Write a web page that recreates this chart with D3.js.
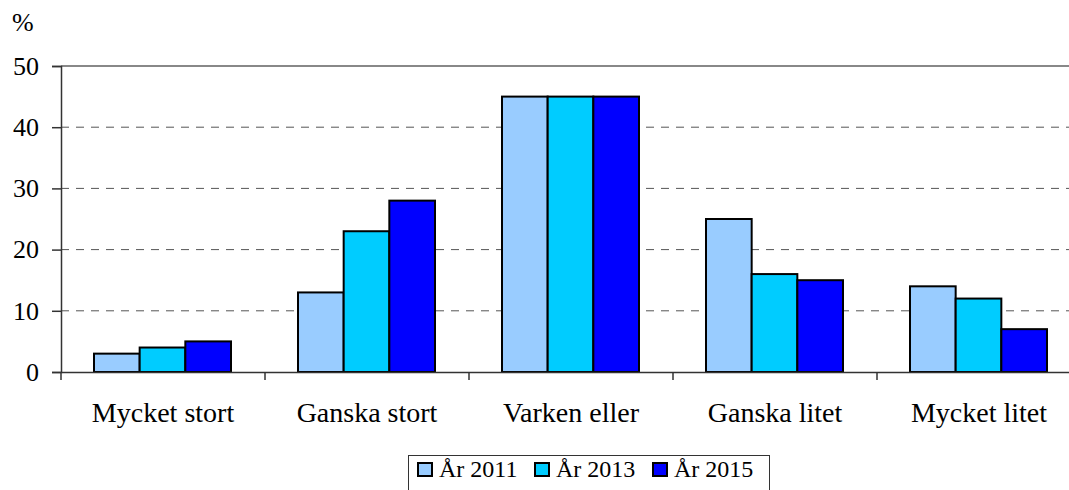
<!DOCTYPE html>
<html>
<head>
<meta charset="utf-8">
<script src="https://cdn.jsdelivr.net/npm/d3@7"></script>
<style>
  body { margin: 0; background: #fff; }
</style>
</head>
<body>
<div id="chart"></div>
<script>
// data
const categories = ['Mycket stort', 'Ganska stort', 'Varken eller', 'Ganska litet', 'Mycket litet'];
const seriesNames = ['År 2011', 'År 2013', 'År 2015'];
const values2011 = [3, 13, 45, 25, 14];
const values2013 = [4, 23, 45, 16, 12];
const values2015 = [5, 28, 45, 15, 7];
const yTicks = [0, 10, 20, 30, 40, 50];

const colors = ['#99ccff', '#00ccff', '#0000ff'];
const series = [values2011, values2013, values2015];
const FONT = 'Liberation Serif';

const width = 1069;
const height = 490;
const margin = { top: 66, left: 61, bottom: 118 };
const plotW = 1020;
const plotH = height - margin.top - margin.bottom;

const svg = d3.select('#chart')
  .append('svg')
  .attr('width', width)
  .attr('height', height)
  .attr('font-family', FONT);

const g = svg.append('g')
  .attr('transform', `translate(${margin.left},${margin.top})`);

const x0 = d3.scaleBand()
  .domain(categories)
  .range([0, plotW])
  .paddingInner(0)
  .paddingOuter(0);

const x1 = d3.scaleBand()
  .domain(seriesNames)
  .range([33, x0.bandwidth() - 34]);

const y = d3.scaleLinear()
  .domain([0, 50])
  .range([plotH, 0]);

// gridlines
g.selectAll('.grid')
  .data(yTicks.filter(d => d > 0))
  .enter()
  .append('line')
  .attr('x1', 0)
  .attr('x2', plotW)
  .attr('y1', d => y(d))
  .attr('y2', d => y(d))
  .attr('stroke', d => d === 50 ? '#888' : '#555')
  .attr('stroke-width', d => d === 50 ? 2 : 1)
  .attr('stroke-dasharray', d => d === 50 ? null : '8,7');

// bars
const groups = g.selectAll('.group')
  .data(categories)
  .enter()
  .append('g')
  .attr('transform', d => `translate(${x0(d)},0)`);

groups.selectAll('rect')
  .data((d, i) => series.map((s, j) => ({ name: seriesNames[j], value: s[i], color: colors[j] })))
  .enter()
  .append('rect')
  .attr('x', d => x1(d.name))
  .attr('y', d => y(d.value))
  .attr('width', x1.bandwidth())
  .attr('height', d => plotH - y(d.value))
  .attr('fill', d => d.color)
  .attr('stroke', '#000')
  .attr('stroke-width', 2);

// y axis
const yAxis = d3.axisLeft(y)
  .tickValues(yTicks)
  .tickSize(9)
  .tickPadding(13);

const yg = g.append('g').call(yAxis).attr('font-family', FONT);
yg.select('.domain').attr('stroke', '#333').attr('stroke-width', 1.5);
yg.selectAll('.tick line').attr('stroke', '#333').attr('stroke-width', 1.5);
yg.selectAll('text')
  .attr('font-family', FONT)
  .attr('font-size', 26)
  .attr('fill', '#000');

// x axis
const xAxis = d3.axisBottom(x0)
  .tickSize(0);

const xg = g.append('g')
  .attr('transform', `translate(0,${plotH})`)
  .call(xAxis)
  .attr('font-family', FONT);
xg.select('.domain').attr('stroke', '#333').attr('stroke-width', 1.5);
xg.selectAll('text')
  .attr('font-family', FONT)
  .attr('font-size', 28)
  .attr('y', 50)
  .attr('dy', 0)
  .attr('fill', '#000');

// category separator ticks
xg.selectAll('.sep')
  .data(categories)
  .enter()
  .append('line')
  .attr('x1', d => x0(d))
  .attr('x2', d => x0(d))
  .attr('y1', 0)
  .attr('y2', 8)
  .attr('stroke', '#333')
  .attr('stroke-width', 1.5);

// unit label
svg.append('text')
  .attr('x', 12)
  .attr('y', 31)
  .attr('font-family', FONT)
  .attr('font-size', 26)
  .text('%');

// legend
const legend = svg.append('g').attr('transform', 'translate(408,455)');
legend.append('rect')
  .attr('x', 0.5)
  .attr('y', 0.5)
  .attr('width', 361)
  .attr('height', 40)
  .attr('fill', '#fff')
  .attr('stroke', '#333')
  .attr('stroke-width', 1);

const legendOffsets = [10, 127, 245];
seriesNames.forEach((name, i) => {
  const item = legend.append('g').attr('transform', `translate(${legendOffsets[i]},0)`);
  item.append('rect')
    .attr('x', 0)
    .attr('y', 8)
    .attr('width', 14)
    .attr('height', 13)
    .attr('fill', colors[i])
    .attr('stroke', '#000')
    .attr('stroke-width', 2);
  item.append('text')
    .attr('x', 21)
    .attr('y', 21.5)
    .attr('font-family', FONT)
    .attr('font-size', 24)
    .text(name);
});
</script>
</body>
</html>
